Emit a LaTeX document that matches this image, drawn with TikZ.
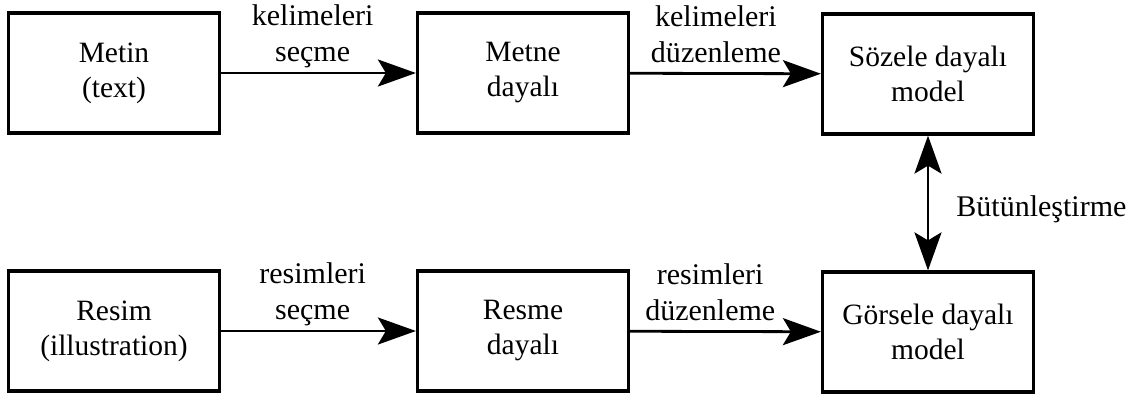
\documentclass[tikz,border=0pt]{standalone}
\usepackage{fontspec}
\setmainfont{Liberation Serif}
\usetikzlibrary{arrows.meta}
\begin{document}
\begin{tikzpicture}[x=1bp,y=-1bp,
  box/.style={draw, line width=3.2bp, minimum width=211bp, minimum height=120bp,
    inner sep=0pt, align=center, font=\fontsize{29.5bp}{35bp}\selectfont},
  tip/.tip={Stealth[length=38bp,width=27bp,inset=8bp]},
  conn/.style={line width=2.8bp, -tip},
  biconn/.style={line width=2.8bp, tip-tip},
  lbl/.style={align=center, inner sep=0pt, text depth=0pt, font=\fontsize{30bp}{36bp}\selectfont}]
\useasboundingbox (0,0) rectangle (1131,396);
\node[box] (metin) at (114,73) {Metin\\(text)};
\node[box] (metne) at (523,73) {Metne\\dayalı};
\node[box] (sozel) at (928,74) {Sözele dayalı\\model};
\node[box] (resim) at (114,331) {Resim\\(illustration)};
\node[box] (resme) at (523,331) {Resme\\dayalı};
\node[box] (gorsel) at (928,332) {Görsele dayalı\\model};
\draw[conn] (metin) -- node[lbl, pos=0.47, anchor=south, yshift=10bp] {kelimeleri\\seçme} (metne);
\draw[conn] (metne) -- node[lbl, pos=0.45, anchor=south, yshift=10bp] {kelimeleri\\düzenleme} (sozel);
\draw[conn] (resim) -- node[lbl, pos=0.47, anchor=south, yshift=10bp] {resimleri\\seçme} (resme);
\draw[conn] (resme) -- node[lbl, pos=0.42, anchor=south, yshift=10bp] {resimleri\\düzenleme} (gorsel);
\draw[biconn] (sozel) -- node[lbl, midway, anchor=base west, xshift=27bp, yshift=-13.5bp] {Bütünleştirme} (gorsel);
\end{tikzpicture}
\end{document}
